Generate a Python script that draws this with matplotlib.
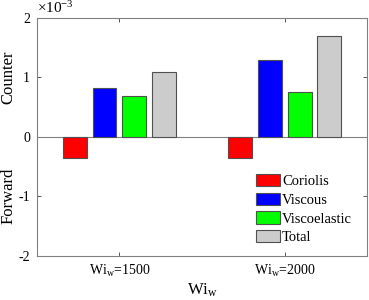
"""Grouped bar chart of force contributions (Coriolis, viscous, viscoelastic, total)."""

import matplotlib

matplotlib.use("Agg")
import matplotlib.pyplot as plt
import numpy as np

# values in units of 1e-3
groups = ["Wi$_\\mathrm{w}$=1500", "Wi$_\\mathrm{w}$=2000"]
coriolis = [-0.36, -0.35]
viscous = [0.82, 1.29]
viscoelastic = [0.68, 0.75]
total = [1.09, 1.70]

series_names = ["Coriolis", "Viscous", "Viscoelastic", "Total"]
series_colors = ["#ff0000", "#0000ff", "#00ff00", "#cccccc"]
y_ticks = [-2, -1, 0, 1, 2]

plt.rcParams["font.family"] = ["Liberation Serif", "DejaVu Serif"]
plt.rcParams["mathtext.fontset"] = "custom"
plt.rcParams["mathtext.rm"] = "Liberation Serif"
plt.rcParams["mathtext.it"] = "Liberation Serif:italic"
plt.rcParams["axes.unicode_minus"] = False

fig = plt.figure(figsize=(3.69, 3.0), dpi=100)
ax = fig.add_axes([0.1, 0.148, 0.895, 0.792])

x = np.arange(1, len(groups) + 1)
pitch = 0.181
width = 0.145
for i, (vals, name, col) in enumerate(zip([coriolis, viscous, viscoelastic, total], series_names, series_colors)):
    ax.bar(x + (i - 1.5) * pitch, vals, width, color=col, edgecolor="#505050",
           linewidth=0.8, label=name, zorder=3)

ax.axhline(0, color="#808080", linewidth=0.8, zorder=2)
ax.set_xlim(0.5, 2.5)
ax.set_ylim(-2, 2)
ax.set_xticks(x)
ax.set_xticklabels(groups, fontsize=10)
ax.set_yticks(y_ticks)
ax.set_yticklabels([str(t) for t in y_ticks], fontsize=10)
ax.tick_params(direction="in", top=True, right=True, length=3, width=0.6,
               color="#404040", pad=5)
for sp in ax.spines.values():
    sp.set_color("#808080")
    sp.set_linewidth(0.8)

ax.set_xlabel("Wi$_\\mathrm{w}$", fontsize=12, labelpad=2)
ax.text(-0.085, 0.75, "Counter", transform=ax.transAxes, rotation=90,
        ha="center", va="center", fontsize=12)
ax.text(-0.085, 0.25, "Forward", transform=ax.transAxes, rotation=90,
        ha="center", va="center", fontsize=12)
ax.text(0.0, 1.01, "$\\times$10$^{\\mathrm{-3}}$", transform=ax.transAxes,
        ha="left", va="bottom", fontsize=11)

ax.legend(loc="upper left", bbox_to_anchor=(0.664, 0.345), frameon=False,
          fontsize=10.5, handlelength=1.65, handleheight=0.9, handletextpad=0.12,
          labelspacing=0.33, borderpad=0, borderaxespad=0)

fig.savefig("out.png", dpi=100)
plt.close(fig)
